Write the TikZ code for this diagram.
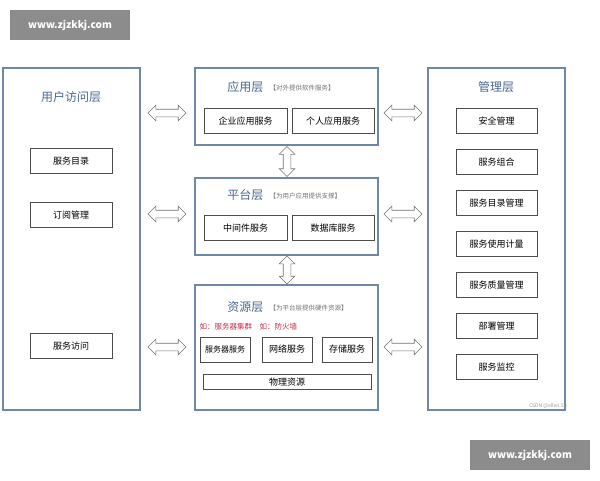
\documentclass[tikz,border=0pt]{standalone}
\usepackage{fontspec}
\setmainfont{Noto Sans CJK SC}
\usetikzlibrary{shapes.arrows}
\definecolor{frameblue}{HTML}{6F87A8}
\definecolor{titleblue}{HTML}{4A6790}
\definecolor{notered}{HTML}{C0304A}
\tikzset{
  layer/.style={draw=frameblue,line width=1.6pt},
  item/.style={draw=black!70,line width=0.7pt,fill=white,minimum height=25pt,font=\fontsize{9}{9}\selectfont,inner sep=1pt},
  ttl/.style={text=titleblue,font=\fontsize{12}{12}\selectfont},
  subttl/.style={text=black!55,font=\fontsize{6.5}{6.5}\selectfont},
  link/.style={double arrow,draw=black!55,fill=white,line width=0.6pt,minimum height=38pt,double arrow head extend=4pt,double arrow head indent=0pt,inner sep=3.5pt},
  stamp/.style={fill=black!45,text=white,font=\fontsize{10}{10}\selectfont\bfseries,minimum width=120pt,minimum height=30pt}
}
\begin{document}
\begin{tikzpicture}[x=1pt,y=-1pt]
  \useasboundingbox (0,0) rectangle (600,480);
  \node[stamp] (wm1) at (70,25) {www.zjzkkj.com};
  \node[stamp] (wm2) at (530,455) {www.zjzkkj.com};
  % left column
  \draw[layer] (3,68) rectangle (140,410);
  \node[ttl] (user) at (71,97) {用户访问层};
  \node[item,minimum width=82pt] (dir) at (71,161) {服务目录};
  \node[item,minimum width=82pt] (subs) at (71,215) {订阅管理};
  \node[item,minimum width=82pt] (acc) at (71,346) {服务访问};
  % application layer
  \draw[layer] (195,68) rectangle (378,145);
  \node[ttl,anchor=east] (app) at (267,87) {应用层};
  \node[subttl,anchor=west] at (266,88) {【对外提供软件服务】};
  \node[item,minimum width=83pt] (ent) at (245.5,121) {企业应用服务};
  \node[item,minimum width=82pt] (per) at (333,121) {个人应用服务};
  % platform layer
  \draw[layer] (195,178) rectangle (378,255);
  \node[ttl,anchor=east] (plat) at (267,195) {平台层};
  \node[subttl,anchor=west] at (266,196) {【为用户应用提供支撑】};
  \node[item,minimum width=83pt] (mid) at (245.5,228) {中间件服务};
  \node[item,minimum width=82pt] (db) at (333,228) {数据库服务};
  % resource layer
  \draw[layer] (195,285) rectangle (378,410);
  \node[ttl,anchor=east] (res) at (267,307) {资源层};
  \node[subttl,anchor=west] at (266,308) {【为平台层提供硬件资源】};
  \node[text=notered,anchor=west,font=\fontsize{7.5}{7.5}\selectfont] (note) at (196,327) {如：服务器集群\quad 如：防火墙};
  \node[item,minimum width=50pt,font=\fontsize{8}{8}\selectfont] (srv) at (225,349.5) {服务器服务};
  \node[item,minimum width=50pt] (net) at (287,349.5) {网络服务};
  \node[item,minimum width=50pt] (sto) at (347,349.5) {存储服务};
  \node[item,minimum width=168pt,minimum height=15pt] (phy) at (287,382) {物理资源};
  % management column
  \draw[layer] (428,68) rectangle (565,410);
  \node[ttl] (mgmt) at (496,87) {管理层};
  \foreach \t [count=\i] in {安全管理,服务组合,服务目录管理,服务使用计量,服务质量管理,部署管理,服务监控}
    \node[item,minimum width=81pt] (m\i) at (496.5,80+41*\i) {\t};
  \node[text=black!40,font=\fontsize{5}{5}\selectfont] (csdn) at (548,406) {CSDN @ellen.Su};
  % connectors
  \foreach \y/\n in {113/a,214/b,347/c} {
    \node[link] (l\n) at (167,\y) {};
    \node[link] (r\n) at (403,\y) {};
  }
  \node[link,rotate=90,minimum height=30pt] (v1) at (287,161.5) {};
  \node[link,rotate=90,minimum height=28pt] (v2) at (287,270) {};
\end{tikzpicture}
\end{document}
